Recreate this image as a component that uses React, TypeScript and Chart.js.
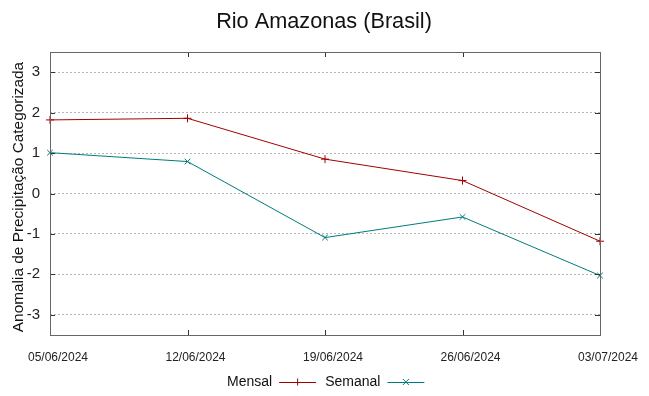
import React, { useEffect, useRef } from "react";
import { Chart, registerables } from "chart.js";

Chart.register(...registerables);

const categories = ["05/06/2024", "12/06/2024", "19/06/2024", "26/06/2024", "03/07/2024"];
const mensal = [1.82, 1.86, 0.85, 0.32, -1.18];
const semanal = [1.01, 0.79, -1.09, -0.58, -2.03];
const seriesNames = ["Mensal", "Semanal"];
const yTicks = [-3, -2, -1, 0, 1, 2, 3];
const titleText = "Rio Amazonas (Brasil)";
const yTitleText = "Anomalia de Precipitação Categorizada";

const FONT = "'Liberation Sans', Arial, sans-serif";
const RED = "#a00000";
const TEAL = "#007b7b";

const framePlugin = {
  id: "frame",
  afterDatasetsDraw(chart: any) {
    const { ctx, chartArea } = chart;
    const { left, right, top, bottom } = chartArea;
    const ys = chart.scales.y;
    const xs = chart.scales.x;
    ctx.save();
    ctx.strokeStyle = "#333";
    ctx.lineWidth = 1;
    ctx.beginPath();
    for (const v of yTicks) {
      const py = Math.round(ys.getPixelForValue(v)) + 0.5;
      ctx.moveTo(left, py);
      ctx.lineTo(left + 5, py);
      ctx.moveTo(right, py);
      ctx.lineTo(right - 5, py);
    }
    for (let i = 0; i < categories.length; i++) {
      const px = Math.round(xs.getPixelForValue(i)) + 0.5;
      ctx.moveTo(px, bottom);
      ctx.lineTo(px, bottom - 5);
      ctx.moveTo(px, top);
      ctx.lineTo(px, top + 5);
    }
    ctx.stroke();
    ctx.strokeStyle = "#666";
    ctx.strokeRect(Math.round(left) + 0.5, Math.round(top) + 0.5, Math.round(right - left), Math.round(bottom - top));
    ctx.restore();
  },
  afterDraw(chart: any) {
    const { ctx } = chart;
    ctx.save();
    // title
    ctx.fillStyle = "#111";
    ctx.font = `21.7px ${FONT}`;
    ctx.textAlign = "center";
    ctx.textBaseline = "alphabetic";
    ctx.fillText(titleText, 324, 28);
    // y axis title
    ctx.save();
    ctx.translate(19, 197);
    ctx.rotate(-Math.PI / 2);
    ctx.font = `15.4px ${FONT}`;
    ctx.textBaseline = "middle";
    ctx.fillText(yTitleText, 0, 0);
    ctx.restore();
    // legend
    const y = 382;
    ctx.font = `14px ${FONT}`;
    ctx.textBaseline = "middle";
    ctx.textAlign = "left";
    let x = 227;
    chart.data.datasets.forEach((ds: any, i: number) => {
      ctx.fillStyle = "#111";
      ctx.fillText(ds.label, x, y);
      const w = ctx.measureText(ds.label).width;
      const lx0 = x + w + 7;
      const lx1 = lx0 + 37;
      ctx.strokeStyle = ds.borderColor;
      ctx.lineWidth = 1;
      ctx.beginPath();
      ctx.moveTo(lx0, y + 0.5);
      ctx.lineTo(lx1, y + 0.5);
      const cx = (lx0 + lx1) / 2;
      const r = 3.5;
      if (i === 0) {
        ctx.moveTo(cx, y - r);
        ctx.lineTo(cx, y + r);
      } else {
        ctx.moveTo(cx - 3, y - 3);
        ctx.lineTo(cx + 3, y + 3);
        ctx.moveTo(cx - 3, y + 3);
        ctx.lineTo(cx + 3, y - 3);
      }
      ctx.stroke();
      x = lx1 + 9;
    });
    ctx.restore();
  },
};

export default function App() {
  const ref = useRef<HTMLCanvasElement>(null);
  useEffect(() => {
    if (!ref.current) return;
    const chart = new Chart(ref.current, {
      type: "line",
      data: {
        labels: categories,
        datasets: [
          {
            label: seriesNames[0],
            data: mensal,
            borderColor: RED,
            backgroundColor: RED,
            borderWidth: 1,
            pointStyle: "cross",
            pointRadius: 4,
            pointBorderWidth: 1,
            tension: 0,
          },
          {
            label: seriesNames[1],
            data: semanal,
            borderColor: TEAL,
            backgroundColor: TEAL,
            borderWidth: 1,
            pointStyle: "crossRot",
            pointRadius: 4,
            pointBorderWidth: 1,
            tension: 0,
          },
        ],
      },
      plugins: [framePlugin],
      options: {
        animation: false,
        responsive: false,
        devicePixelRatio: 1,
        layout: { padding: { left: 0, right: 49, top: 52, bottom: 0 } },
        plugins: {
          legend: { display: false },
          tooltip: { enabled: false },
          title: { display: false },
        },
        scales: {
          x: {
            type: "category",
            offset: false,
            grid: { display: false, drawTicks: false },
            border: { display: false },
            ticks: {
              color: "#222",
              font: { family: FONT, size: 12 },
              padding: 15,
              labelOffset: 8,
              maxRotation: 0,
              autoSkip: false,
            },
            afterFit(scale: any) {
              scale.height = 61;
            },
          },
          y: {
            min: -3.5,
            max: 3.5,
            border: { display: false, dash: [2, 2] },
            grid: {
              drawTicks: false,
              color: "#b4b4b4",
              lineWidth: 1,
            },
            afterBuildTicks(scale: any) {
              scale.ticks = yTicks.map((v) => ({ value: v }));
            },
            ticks: {
              color: "#222",
              font: { family: FONT, size: 15 },
              padding: 10,
              callback: (v: any) => String(v),
            },
            title: { display: false },
            afterFit(scale: any) {
              scale.width = 50;
            },
          },
        },
      },
    } as any);
    return () => chart.destroy();
  }, []);
  return (
    <div style={{ position: "fixed", left: 0, top: 0, width: 649, height: 396, background: "#fff" }}>
      <canvas ref={ref} width={649} height={396} style={{ width: 649, height: 396 }} />
    </div>
  );
}
